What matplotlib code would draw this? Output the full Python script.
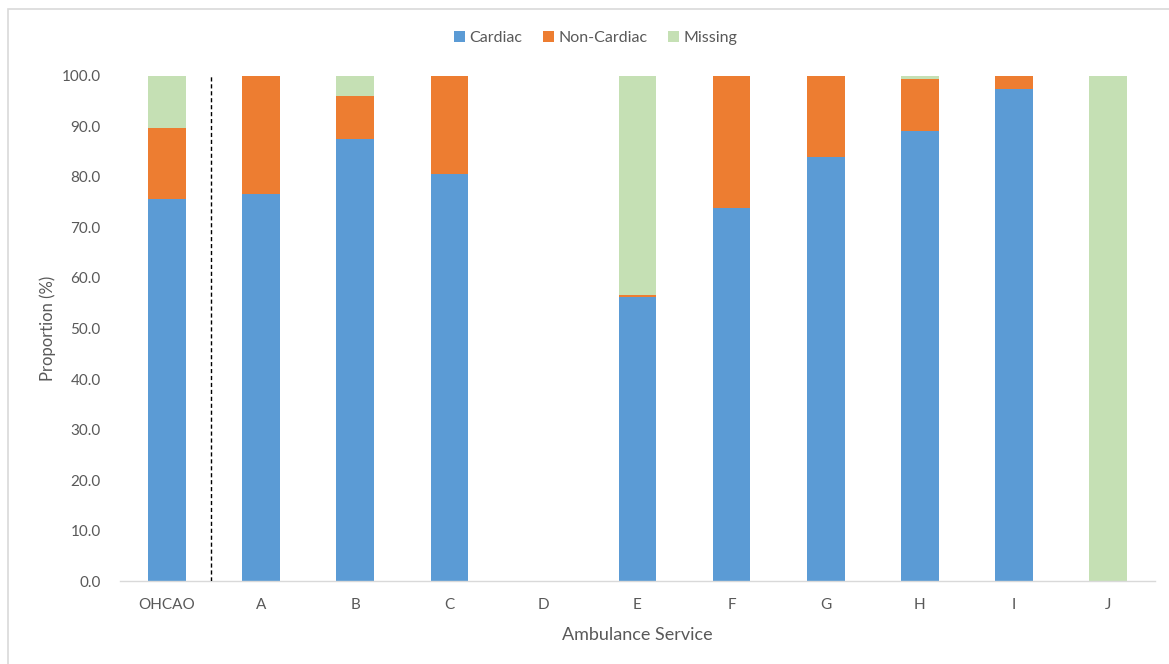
import matplotlib
matplotlib.use("Agg")
import matplotlib.pyplot as plt
import numpy as np
from matplotlib.patches import Rectangle

plt.rcParams['font.family'] = ['Lato', 'DejaVu Sans']

services = ["OHCAO", "A", "B", "C", "D", "E", "F", "G", "H", "I", "J"]
cardiac = [75.6, 76.6, 87.4, 80.6, 0.0, 56.2, 73.8, 83.9, 89.1, 97.3, 0.0]
non_cardiac = [14.1, 23.4, 8.6, 19.4, 0.0, 0.5, 26.2, 16.1, 10.2, 2.7, 0.0]
missing = [10.3, 0.0, 4.0, 0.0, 0.0, 43.3, 0.0, 0.0, 0.7, 0.0, 100.0]

series_names = ["Cardiac", "Non-Cardiac", "Missing"]
colors = ["#5B9BD5", "#ED7D31", "#C5E0B4"]
text_color = "#595959"

fig = plt.figure(figsize=(11.69, 6.64), dpi=100)
ax = fig.add_axes([120 / 1169, 1 - 581.3 / 664, 1035 / 1169, (581.3 - 75.7) / 664])

x = np.arange(len(services))
width = 0.4
bottom = np.zeros(len(services))
for vals, name, col in zip([cardiac, non_cardiac, missing], series_names, colors):
    vals = np.array(vals)
    ax.bar(x, vals, width, bottom=bottom, color=col, label=name, zorder=2)
    bottom += vals

# separator between the overall figure and individual services
ax.plot([0.47, 0.47], [0, 100], color="black", linestyle=(0, (3, 2)), linewidth=1, zorder=3)

ax.set_xlim(-0.5, len(services) - 0.5)
ax.set_ylim(0, 100)
ax.set_yticks(np.arange(0, 101, 10))
ax.set_yticklabels([f"{v:.1f}" for v in np.arange(0, 101, 10)])
ax.set_xticks(x)
ax.set_xticklabels(services)

for side in ["top", "right", "left"]:
    ax.spines[side].set_visible(False)
ax.spines["bottom"].set_color("#D9D9D9")
ax.spines["bottom"].set_linewidth(1)
ax.tick_params(axis="both", length=0, colors=text_color, labelsize=11)
ax.tick_params(axis="y", pad=14)
ax.tick_params(axis="x", pad=12)

ax.set_xlabel("Ambulance Service", color=text_color, fontsize=13, labelpad=11)
ax.set_ylabel("Proportion (%)", color=text_color, fontsize=12, labelpad=4)

leg = fig.legend(loc="center", bbox_to_anchor=(596 / 1169, 1 - 38 / 664), ncol=3, frameon=False,
                 fontsize=11.5, handlelength=0.65, handleheight=0.65, handletextpad=0.3,
                 columnspacing=1.3)
for t in leg.get_texts():
    t.set_color(text_color)

# chart area border
fig.patches.append(Rectangle((8 / 1169, -0.05), 1.2, 1 - 9 / 664 + 0.05,
                             transform=fig.transFigure, fill=False,
                             edgecolor="#D9D9D9", linewidth=1.2))

fig.savefig("out.png", dpi=100)
